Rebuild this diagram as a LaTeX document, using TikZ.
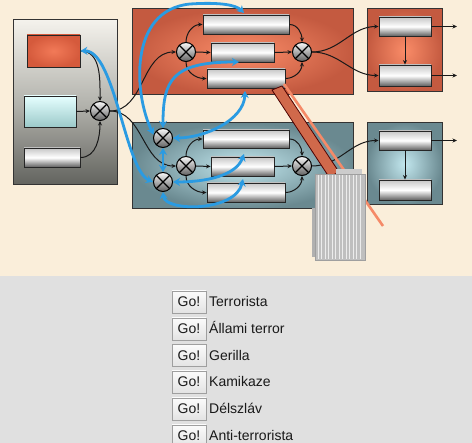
\documentclass[tikz,border=0pt]{standalone}
\usepackage{fontspec}
\setmainfont{Liberation Sans}
\usetikzlibrary{arrows.meta,fit,calc}
\definecolor{bgtop}{HTML}{FAEEDA}
\definecolor{bgbot}{HTML}{E0E0E0}
\definecolor{redin}{HTML}{FA8C68}
\definecolor{redout}{HTML}{C45A40}
\definecolor{bluein}{HTML}{C2E7EE}
\definecolor{blueout}{HTML}{6A8990}
\definecolor{arrowblue}{HTML}{2A9BE2}
\definecolor{barred}{HTML}{D0694B}
\definecolor{thinred}{HTML}{F58A68}
\definecolor{stackc}{HTML}{BFBFBF}
\definecolor{leftTop}{HTML}{F4F2EC}
\definecolor{leftMid}{HTML}{B4B4AE}
\definecolor{leftBot}{HTML}{62635E}
\definecolor{lrin}{HTML}{F27A58}
\definecolor{lrout}{HTML}{D55A3C}
\begin{document}
\begin{tikzpicture}[x=1pt,y=1pt,
  box/.style={draw=black!80, line width=1pt, inner sep=0pt},
  redbox/.style={box, inner color=redin, outer color=redout},
  bluebox/.style={box, inner color=bluein, outer color=blueout},
  leftbox/.style={box, top color=leftTop, bottom color=leftBot, middle color=leftMid},
  blk/.style={draw=black!85, line width=0.9pt, inner sep=0pt, top color=gray!45, bottom color=black!62, middle color=white},
  redblk/.style={draw=black!85, line width=0.9pt, inner sep=0pt, inner color=lrin, outer color=lrout},
  blueblk/.style={draw=black!85, line width=0.9pt, inner sep=0pt, top color=cyan!10!white, bottom color=cyan!30!gray!60},
  mult/.style={circle, minimum size=19pt, inner sep=0pt, draw=black, line width=1pt,
    top color=white!95!gray, bottom color=gray!75!black,
    path picture={\draw[line width=1.1pt]
      (path picture bounding box.north west) -- (path picture bounding box.south east)
      (path picture bounding box.north east) -- (path picture bounding box.south west);}},
  conn/.style={draw=black!90, line width=1pt, -{Stealth[length=4.5pt,width=4pt]}},
  barrow/.style={draw=arrowblue, line width=2.8pt,
    {Stealth[length=7pt,width=8pt]}-{Stealth[length=7pt,width=8pt]}},
  btn/.style={draw=gray!75, line width=0.8pt, top color=white!97!gray, bottom color=gray!22,
    minimum width=34pt, minimum height=22pt, inner sep=0pt,
    font=\fontsize{14}{16}\selectfont, text=black!90},
  lbl/.style={anchor=base west, inner sep=0pt, font=\fontsize{14}{16}\selectfont, text=black!90}
]
\path[use as bounding box, clip] (0,0) rectangle (472,-443);
% backgrounds
\fill[bgtop] (0,0) rectangle (472,-276);
\fill[bgbot] (0,-276) rectangle (472,-443);

% big boxes
\node[leftbox, fit={(13,-20)(117,-185)}] (leftb) {};
\node[redbox, fit={(132,-9)(353,-95)}] (topb) {};
\node[bluebox, fit={(132,-123)(353,-209)}] (botb) {};
\node[redbox, fit={(367,-9)(442,-92)}] (trb) {};
\node[bluebox, fit={(367,-123)(442,-205)}] (brb) {};

% left box content
\node[redblk, fit={(27,-35)(80,-67)}] (lr) {};
\node[blueblk, fit={(24,-96)(76,-127)}] (lb) {};
\node[blk, fit={(24,-148)(80,-167)}] (lw) {};
\node[mult] (mL) at (100,-111) {};

% top box content
\node[blk, fit={(203,-15)(289,-34)}] (r1) {};
\node[blk, fit={(211,-43)(274,-62)}] (r2) {};
\node[blk, fit={(207,-69)(285,-88)}] (r3) {};
\node[mult] (m1) at (186,-52) {};
\node[mult] (m2) at (302,-52) {};

% bottom box content
\node[blk, fit={(203,-130)(289,-148)}] (br1) {};
\node[blk, fit={(211,-157)(274,-176)}] (br2) {};
\node[blk, fit={(207,-183)(285,-202)}] (br3) {};
\node[mult] (ma) at (163,-138) {};
\node[mult] (mb) at (186,-166) {};
\node[mult] (mc) at (163,-182) {};
\node[mult] (md) at (302,-166) {};

% right boxes content
\node[blk, fit={(379,-17)(431,-36)}] (tr1) {};
\node[blk, fit={(379,-65)(431,-86)}] (tr2) {};
\node[blk, fit={(379,-131)(431,-150)}] (bbr1) {};
\node[blk, fit={(379,-180)(431,-200)}] (bbr2) {};
\coordinate (o1) at (457,-26.5);
\coordinate (o2) at (457,-75.5);
\coordinate (o3) at (457,-140.5);

% black connectors
\draw[conn] (lr.east) to[out=0,in=90] (mL.north);
\draw[conn] (lb.east) -- (mL.west);
\draw[conn] (lw.east) to[out=0,in=-90] (mL.south);
\draw[conn] (mL.east) to[out=0,in=180] (m1.west);
\draw[conn] (mL.east) to[out=0,in=180] (mb.west);

\draw[conn] (m1.north) to[out=90,in=180] (r1.west);
\draw[conn] (m1.east) -- (r2.west);
\draw[conn] (m1.south) to[out=-90,in=180] (r3.west);
\draw[conn] (r1.east) to[out=0,in=90] (m2.north);
\draw[conn] (r2.east) -- (m2.west);
\draw[conn] (r3.east) to[out=0,in=-90] (m2.south);
\draw[conn] (m2.east) to[out=0,in=180] (tr1.west);
\draw[conn] (m2.east) to[out=0,in=180] (tr2.west);
\draw[conn] (tr1.south) -- (tr2.north);
\draw[conn] (tr1.east) -- (o1);
\draw[conn] (tr2.east) -- (o2);

\draw[conn] (mb.north) to[out=90,in=180] (br1.west);
\draw[conn] (mb.east) -- (br2.west);
\draw[conn] (mb.south) to[out=-90,in=180] (br3.west);
\draw[conn] (br1.east) to[out=0,in=90] (md.north);
\draw[conn] (br2.east) -- (md.west);
\draw[conn] (br3.east) to[out=0,in=-90] (md.south);
\draw[conn] (md.east) to[out=0,in=180] (bbr1.west);
\draw[conn] (bbr1.south) -- (bbr2.north);
\draw[conn] (bbr1.east) -- (o3);

% red bar and thin line
\draw[thinred, line width=2.6pt] (284,-84) -- (383,-226);
\filldraw[fill=barred, draw=black!70!red, line width=0.8pt]
  (272,-90) -- (282,-86) -- (339,-172) -- (329,-177) -- cycle;

% grey stack
\fill[gray!62] (312,-208) rectangle (360,-257);
\fill[gray!40] (336,-169) rectangle (362,-180);
\fill[stackc] (315,-174) rectangle (365,-260);
\foreach \x in {318,321.5,...,363}
  \draw[white!70!stackc, line width=0.7pt] (\x,-175) -- (\x,-259);
\draw[gray!75, line width=0.7pt] (315,-174) rectangle (365,-260);

% blue arrows
\draw[barrow] (ma.160) .. controls (134,-95) and (128,-10) .. (190,-4)
  .. controls (220,-2) and (236,-5) .. (244,-13);
\draw[barrow] (ma.north) .. controls (163,-80) and (172,-62) .. (239,-62);
\draw[barrow] (ma.east) .. controls (205,-138) and (244,-120) .. (245,-91);
\draw[barrow] (ma.south) -- (mc.north);
\draw[barrow] (mc.east) .. controls (205,-182) and (236,-176) .. (244,-154);
\draw[barrow] (mc.south) .. controls (165,-212) and (236,-212) .. (243,-179);
\draw[barrow] (lr.east) .. controls (115,-50) and (125,-170) .. (mc.west);

% buttons
\node[btn] (g1) at (189,-302) {Go!};
\node[lbl] (t1) at (209,-307) {Terrorista};
\node[btn] (g2) at (189,-329) {Go!};
\node[lbl] (t2) at (209,-334) {Állami terror};
\node[btn] (g3) at (189,-355.5) {Go!};
\node[lbl] (t3) at (209,-360.5) {Gerilla};
\node[btn] (g4) at (189,-382) {Go!};
\node[lbl] (t4) at (209,-387) {Kamikaze};
\node[btn] (g5) at (189,-409) {Go!};
\node[lbl] (t5) at (209,-414) {Délszláv};
\node[btn] (g6) at (189,-436) {Go!};
\node[lbl] (t6) at (209,-441) {Anti-terrorista};
\end{tikzpicture}
\end{document}
